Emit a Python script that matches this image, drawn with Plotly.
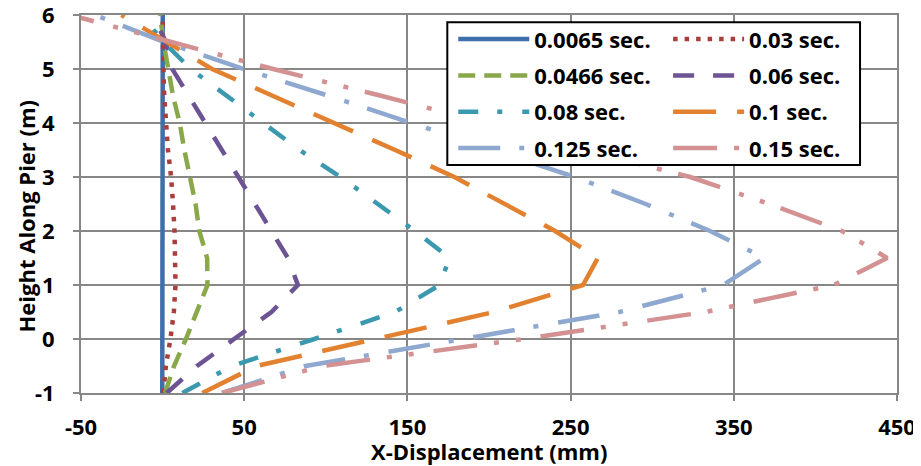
import plotly.graph_objects as go

# Heights along pier (m)
heights = [-1, -0.5, 0, 0.5, 1, 1.5, 2, 2.5, 3, 3.5, 4, 4.5, 5, 5.5, 6]

# X-displacement (mm) for each time step
disp_0065 = [-0.2, -0.2, -0.1, -0.1, 0.0, 0.0, 0.0, 0.0, 0.0, 0.0, 0.0, 0.0, 0.0, 0.1, 0.1]
disp_003 = [0.5, 2.0, 4.8, 6.9, 7.9, 7.9, 7.3, 6.4, 5.2, 3.3, 2.0, 1.0, 0.5, 0.2, 0.0]
disp_0466 = [1.5, 7.0, 14.3, 20.7, 27.5, 27.3, 22.5, 20.2, 16.5, 13.3, 10.5, 6.4, 3.5, 0.5, -1.5]
disp_006 = [2.5, 21.1, 43.8, 66.7, 82.9, 76.8, 66.7, 56.6, 46.5, 36.7, 25.8, 16.2, 5.9, 2.0, -6.1]
disp_008 = [12.1, 42.4, 93.0, 142.5, 169.7, 175.8, 154.6, 131.9, 109.1, 83.9, 61.6, 38.4, 17.2, 0.6, -13.1]
disp_01 = [24.3, 57.6, 130.3, 203.1, 257.6, 266.7, 240.5, 210.2, 178.8, 142.5, 104.9, 67.0, 30.3, 2.5, -25.3]
disp_0125 = [36.4, 87.5, 183.9, 279.9, 343.5, 368.8, 335.5, 296.0, 252.6, 203.1, 152.6, 102.1, 49.5, 1.0, -41.4]
disp_015 = [36.4, 98.0, 221.3, 332.4, 411.2, 444.0, 416.3, 371.8, 323.3, 258.7, 198.0, 134.4, 67.7, 5.1, -56.6]

series_names = ["0.0065 sec.", "0.03 sec.", "0.0466 sec.", "0.06 sec.",
                "0.08 sec.", "0.1 sec.", "0.125 sec.", "0.15 sec."]
series_values = [disp_0065, disp_003, disp_0466, disp_006, disp_008, disp_01, disp_0125, disp_015]
series_colors = ["#3F6FAA", "#A93F3C", "#88A84A", "#6C5393",
                 "#3A98AF", "#E2812F", "#8EA8D0", "#D39192"]
series_dash = ["solid", "4.5px,7px", "17px,9px", "21px,19px",
               "20px,19px,5px,20px", "43px,21px", "42px,19px,5px,20px",
               "44px,17px,5px,17px,5px,20px"]
series_legend = ["legend", "legend2", "legend", "legend2",
                 "legend", "legend2", "legend", "legend2"]

x_ticks = [-50, 50, 150, 250, 350, 450]
x_labels = ["-50", "50", "150", "250", "350", "450"]
y_ticks = [-1, 0, 1, 2, 3, 4, 5, 6]
y_labels = ["-1", "0", "1", "2", "3", "4", "5", "6"]

FONT = "Open Sans, Segoe UI, Arial, sans-serif"
GRID = "#878787"
FS = 22
BOLD = dict(family=FONT, size=FS, color="black", weight="bold")

fig = go.Figure()
for i, (name, vals) in enumerate(zip(series_names, series_values)):
    fig.add_trace(go.Scatter(
        x=vals, y=heights, mode="lines", name=name,
        legend=series_legend[i], legendgroup=name,
        line=dict(color=series_colors[i], width=4.5, dash=series_dash[i]),
    ))

legend_common = dict(
    xanchor="left", yanchor="top", bgcolor="rgba(0,0,0,0)", borderwidth=0,
    itemwidth=71, tracegroupgap=4.7, font=BOLD,
)

fig.update_layout(
    width=921, height=466,
    margin=dict(l=72.5, r=32, t=7, b=81),
    plot_bgcolor="white", paper_bgcolor="white",
    font=BOLD,
    showlegend=True,
    legend=dict(x=0.4562, y=0.9913, **legend_common),
    legend2=dict(x=0.7195, y=0.9913, **legend_common),
    xaxis=dict(
        range=[-50, 450], tickmode="array", tickvals=x_ticks, ticktext=x_labels,
        showgrid=True, gridcolor=GRID, gridwidth=2, zeroline=False,
        showline=True, linecolor=GRID, linewidth=2, mirror=True,
        ticks="outside", ticklen=6, tickwidth=2, tickcolor=GRID,
        ticklabelstandoff=8, ticklabeloverflow="allow", automargin=False,
        tickfont=BOLD,
    ),
    yaxis=dict(
        range=[-1, 6], tickmode="array", tickvals=y_ticks, ticktext=y_labels,
        showgrid=True, gridcolor=GRID, gridwidth=2, zeroline=False,
        showline=True, linecolor=GRID, linewidth=2, mirror=True,
        ticks="outside", ticklen=6, tickwidth=2, tickcolor=GRID,
        ticklabelstandoff=14, ticklabeloverflow="allow", automargin=False,
        tickfont=BOLD,
    ),
    annotations=[
        dict(text="X-Displacement (mm)", xref="paper", yref="paper",
             x=0.5, y=0, xanchor="center", yanchor="middle",
             yshift=-58, showarrow=False, font=BOLD),
        dict(text="Height Along Pier (m)", xref="paper", yref="paper",
             x=0, y=0.5, xanchor="center", yanchor="middle", textangle=-90,
             xshift=-55.5, yshift=-12, showarrow=False, font=BOLD),
    ],
    shapes=[dict(type="rect", xref="paper", yref="paper",
                 x0=0.4489, x1=0.9547, y0=0.6035, y1=0.9807,
                 line=dict(color="black", width=2), fillcolor="white", layer="above")],
)

fig.write_html("out.html")
